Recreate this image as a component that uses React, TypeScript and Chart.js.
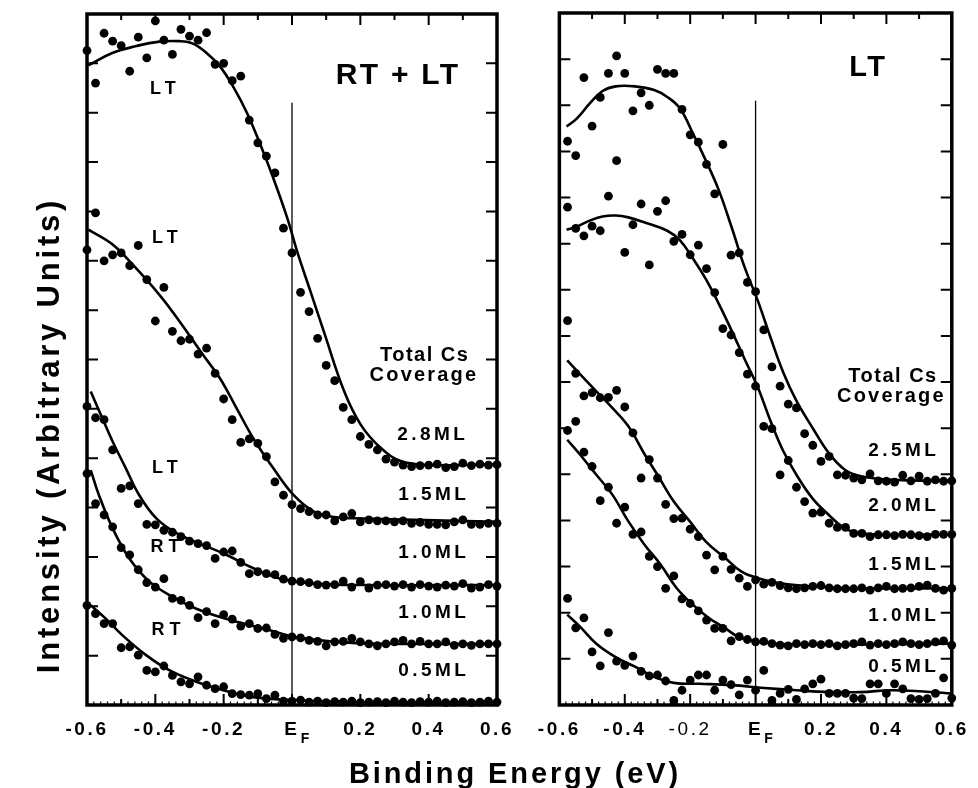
import React, { useEffect, useRef } from "react";
import { Chart, registerables } from "chart.js";

Chart.register(...registerables);

const FONT = '"Liberation Sans", Arial, Helvetica, sans-serif';

// Binding energy grid (eV) shared by all spectra
const ENERGY = [
  -0.6, -0.575, -0.55, -0.525, -0.5, -0.475, -0.45, -0.425, -0.4, -0.375, -0.35, -0.325,
  -0.3, -0.275, -0.25, -0.225, -0.2, -0.175, -0.15, -0.125, -0.1, -0.075, -0.05, -0.025,
  0, 0.025, 0.05, 0.075, 0.1, 0.125, 0.15, 0.175, 0.2, 0.225, 0.25, 0.275, 0.3, 0.325,
  0.35, 0.375, 0.4, 0.425, 0.45, 0.475, 0.5, 0.525, 0.55, 0.575, 0.6,
];

const X_TICKS = [-0.6, -0.4, -0.2, 0, 0.2, 0.4, 0.6];
const X_TICK_LABELS = ["-0.6", "-0.4", "-0.2", "E", "0.2", "0.4", "0.6"];
const X_MAJOR = [-0.4, -0.2, 0, 0.2, 0.4];
const X_MINOR = [-0.5, -0.3, -0.1, 0.1, 0.3, 0.5];
const Y_TICKS_LEFT = [1, 2, 3, 4, 5, 6, 7, 8, 9, 10, 11, 12, 13];
const Y_TICKS_RIGHT = [1, 2, 3, 4, 5, 6, 7, 8, 9, 10, 11, 12, 13, 14];

// ---------- Left panel (RT + LT) data points ----------
const L_28ML = [13.26, 12.6, 13.61, 13.45, 13.36, 12.84, 13.53, 13.11, 13.86, 13.47, 13.18, 13.69, 13.55, 13.47, 13.62, 12.98, 13.0, 12.65, 12.74, 11.85, 11.39, 11.12, 10.78, 9.66, 9.16, 8.36, 7.97, 7.43, 6.88, 6.57, 6.03, 5.78, 5.44, 5.28, 5.17, 4.98, 4.92, 4.86, 4.83, 4.85, 4.86, 4.88, 4.81, 4.83, 4.9, 4.85, 4.88, 4.86, 4.87];
const L_15ML = [9.22, 9.97, 9.0, 9.12, 9.16, 8.9, 9.31, 8.62, 7.78, 8.46, 7.57, 7.38, 7.41, 7.11, 7.23, 6.72, 6.2, 5.78, 5.32, 5.39, 5.3, 5.03, 4.52, 4.25, 4.06, 3.98, 3.92, 3.85, 3.85, 3.73, 3.81, 3.88, 3.71, 3.75, 3.73, 3.73, 3.71, 3.73, 3.68, 3.7, 3.66, 3.66, 3.65, 3.71, 3.75, 3.66, 3.66, 3.68, 3.68];
const L_10ML_LT = [6.05, 5.82, 5.78, 5.17, 4.39, 4.44, 4.08, 3.66, 3.65, 3.54, 3.5, 3.41, 3.32, 3.27, 3.23, 2.97, 3.1, 3.12, 2.89, 2.66, 2.7, 2.66, 2.64, 2.55, 2.51, 2.5, 2.48, 2.44, 2.43, 2.44, 2.51, 2.39, 2.5, 2.37, 2.43, 2.44, 2.41, 2.44, 2.39, 2.44, 2.41, 2.39, 2.43, 2.41, 2.46, 2.37, 2.39, 2.44, 2.41];
const L_10ML_RT = [4.69, 4.08, 3.85, 3.61, 3.19, 3.04, 2.74, 2.48, 2.39, 2.56, 2.16, 2.12, 2.02, 1.77, 1.89, 1.65, 1.83, 1.74, 1.6, 1.65, 1.55, 1.56, 1.43, 1.35, 1.38, 1.36, 1.31, 1.29, 1.2, 1.28, 1.29, 1.35, 1.28, 1.24, 1.2, 1.24, 1.28, 1.31, 1.24, 1.29, 1.24, 1.24, 1.28, 1.21, 1.24, 1.21, 1.24, 1.24, 1.24];
const L_05ML = [2.02, 1.85, 1.65, 1.65, 1.16, 1.18, 1.01, 0.7, 0.67, 0.79, 0.6, 0.47, 0.43, 0.57, 0.4, 0.33, 0.37, 0.23, 0.21, 0.2, 0.23, 0.13, 0.2, 0.08, 0.08, 0.1, 0.06, 0.08, 0.05, 0.07, 0.06, 0.08, 0.05, 0.06, 0.07, 0.05, 0.08, 0.06, 0.05, 0.07, 0.06, 0.08, 0.05, 0.06, 0.07, 0.05, 0.06, 0.08, 0.06];

// Left panel fitted curves
const LF_28_E = [-0.596, -0.526, -0.456, -0.388, -0.329, -0.29, -0.25, -0.211, -0.173, -0.132, -0.093, -0.055, -0.014, 0.015, 0.054, 0.093, 0.153, 0.202, 0.261, 0.32, 0.408, 0.6];
const LF_28_I = [12.96, 13.21, 13.35, 13.44, 13.45, 13.4, 13.21, 12.94, 12.54, 12.0, 11.36, 10.68, 9.87, 9.19, 8.38, 7.57, 6.35, 5.67, 5.2, 4.94, 4.86, 4.88];
const LF_15_E = [-0.596, -0.525, -0.466, -0.388, -0.329, -0.26, -0.211, -0.162, -0.113, -0.054, 0.005, 0.064, 0.123, 0.212, 0.359, 0.6];
const LF_15_I = [9.63, 9.33, 8.92, 8.31, 7.77, 7.09, 6.62, 6.01, 5.4, 4.79, 4.25, 3.92, 3.81, 3.78, 3.75, 3.71];
const LF_10LT_E = [-0.589, -0.555, -0.525, -0.486, -0.447, -0.397, -0.338, -0.27, -0.191, -0.113, -0.034, 0.064, 0.212, 0.6];
const LF_10LT_I = [6.35, 5.81, 5.34, 4.79, 4.25, 3.78, 3.48, 3.27, 3.04, 2.77, 2.56, 2.46, 2.43, 2.43];
const LF_10RT_E = [-0.589, -0.565, -0.525, -0.476, -0.417, -0.349, -0.28, -0.181, -0.083, 0.005, 0.113, 0.261, 0.6];
const LF_10RT_I = [4.76, 4.25, 3.58, 2.97, 2.5, 2.19, 1.95, 1.72, 1.55, 1.38, 1.29, 1.24, 1.24];
const LF_05_E = [-0.589, -0.545, -0.496, -0.427, -0.358, -0.28, -0.201, -0.113, 0.005, 0.163, 0.6];
const LF_05_I = [2.02, 1.75, 1.41, 1.01, 0.7, 0.47, 0.3, 0.16, 0.1, 0.06, 0.06];

// ---------- Right panel (LT) data points ----------
const R_25ML = [null, 12.22, 11.91, 13.6, 12.55, 13.17, 13.69, 14.07, 13.69, 12.88, 13.27, 13.0, 13.78, 13.69, 13.69, 12.91, 12.36, 12.2, 11.72, 11.08, 12.15, 9.75, 9.8, 9.16, 8.96, 8.13, 7.33, 6.91, 6.52, 6.44, 5.88, 5.63, 5.28, 5.39, 4.99, 4.98, 4.92, 4.88, 5.01, 4.86, 4.85, 4.83, 4.98, 4.86, 4.96, 4.85, 4.88, 4.85, 4.86];
const R_20ML = [null, 10.79, 10.33, 10.17, 10.38, 10.28, 11.03, 11.8, 9.81, 10.41, 10.86, 9.54, 10.7, 10.93, 10.05, 10.2, 9.76, 9.97, 9.46, 8.94, 8.16, 8.02, 7.64, 7.17, 6.91, 6.04, 5.99, 4.99, 5.3, 4.72, 4.41, 4.16, 4.18, 3.94, 3.85, 3.85, 3.72, 3.72, 3.65, 3.69, 3.69, 3.67, 3.7, 3.69, 3.67, 3.65, 3.7, 3.7, 3.7];
const R_15ML = [null, 8.33, 7.19, 6.7, 6.77, 6.66, 6.67, 6.82, 6.46, 5.9, 4.92, 5.32, 4.92, 4.35, 4.04, 4.05, 3.81, 3.65, 3.25, 2.93, 3.22, 2.94, 2.75, 2.57, 2.71, 2.62, 2.66, 2.59, 2.54, 2.52, 2.54, 2.57, 2.59, 2.54, 2.52, 2.52, 2.52, 2.54, 2.49, 2.54, 2.57, 2.52, 2.53, 2.54, 2.57, 2.6, 2.53, 2.49, 2.53];
const R_10ML = [null, 5.95, 6.15, 5.48, 5.17, 4.43, 4.72, 3.94, 4.29, 3.7, 3.75, 3.22, 3.0, 2.53, 2.8, 2.3, 2.2, 2.04, 1.84, 1.66, 1.66, 1.39, 1.48, 1.42, 1.37, 1.38, 1.33, 1.3, 1.28, 1.33, 1.31, 1.33, 1.31, 1.33, 1.28, 1.31, 1.33, 1.37, 1.3, 1.33, 1.31, 1.33, 1.37, 1.33, 1.31, 1.33, 1.37, 1.39, 1.3];
const R_05ML = [null, 2.31, 1.67, 1.89, 1.15, 0.85, 1.57, 0.95, 0.86, 1.06, 0.73, 0.63, 0.65, 0.52, 0.1, 0.32, 0.54, 0.65, 0.65, 0.32, 0.54, 0.44, 0.22, 0.54, 0.32, 0.75, 0.1, 0.25, 0.34, 0.12, 0.35, 0.46, 0.56, 0.25, 0.25, 0.25, 0.15, 0.14, 0.46, 0.46, 0.25, 0.46, 0.35, 0.14, 0.12, 0.14, 0.25, 0.59, 0.15];

// Right panel fitted curves
const RF_25_E = [-0.578, -0.547, -0.507, -0.468, -0.428, -0.369, -0.31, -0.27, -0.231, -0.191, -0.152, -0.112, -0.073, -0.033, 0.007, 0.046, 0.085, 0.125, 0.174, 0.224, 0.273, 0.322, 0.421, 0.6];
const RF_25_I = [12.54, 12.71, 13.04, 13.31, 13.41, 13.41, 13.33, 13.18, 12.93, 12.38, 11.8, 11.15, 10.35, 9.48, 8.76, 7.96, 7.2, 6.59, 6.01, 5.46, 5.1, 4.96, 4.88, 4.86];
const RF_20_E = [-0.578, -0.547, -0.507, -0.468, -0.428, -0.389, -0.339, -0.27, -0.231, -0.191, -0.152, -0.112, -0.073, -0.033, 0.007, 0.046, 0.085, 0.125, 0.174, 0.224, 0.273, 0.322, 0.421, 0.6];
const RF_20_I = [10.3, 10.37, 10.5, 10.59, 10.61, 10.57, 10.46, 10.28, 10.07, 9.67, 9.23, 8.69, 8.11, 7.49, 6.88, 6.15, 5.5, 4.99, 4.48, 4.12, 3.83, 3.72, 3.69, 3.7];
const RF_15_E = [-0.576, -0.537, -0.487, -0.438, -0.389, -0.339, -0.3, -0.25, -0.201, -0.152, -0.092, -0.043, 0.007, 0.076, 0.174, 0.322, 0.6];
const RF_15_I = [7.47, 7.17, 6.8, 6.44, 6.04, 5.43, 4.99, 4.41, 3.98, 3.54, 3.18, 2.89, 2.75, 2.64, 2.57, 2.53, 2.53];
const RF_10_E = [-0.576, -0.537, -0.487, -0.438, -0.389, -0.339, -0.29, -0.241, -0.191, -0.142, -0.092, -0.053, 0.007, 0.125, 0.6];
const RF_10_I = [5.75, 5.43, 4.99, 4.56, 3.98, 3.47, 3.04, 2.53, 2.17, 1.88, 1.66, 1.48, 1.37, 1.31, 1.33];
const RF_05_E = [-0.576, -0.537, -0.487, -0.428, -0.369, -0.31, -0.25, -0.171, -0.073, 0.026, 0.125, 0.224, 0.322, 0.421, 0.6];
const RF_05_I = [1.96, 1.7, 1.33, 1.04, 0.83, 0.61, 0.48, 0.46, 0.43, 0.37, 0.32, 0.28, 0.28, 0.32, 0.25];

// Text labels inside the panels
const LEFT_LABELS = ["RT + LT", "LT", "LT", "LT", "RT", "RT", "Total Cs", "Coverage", "2.8ML", "1.5ML", "1.0ML", "1.0ML", "0.5ML"];
const RIGHT_LABELS = ["LT", "Total Cs", "Coverage", "2.5ML", "2.0ML", "1.5ML", "1.0ML", "0.5ML"];

// Label placement (data coordinates) and style, kept separate from values
const LEFT_LABEL_LAYOUT = [
  { x: 0.307, y: 12.74, size: 30, sp: 2.3 },
  { x: -0.378, y: 12.48, size: 18, sp: 5 },
  { x: -0.372, y: 9.46, size: 18, sp: 5 },
  { x: -0.372, y: 4.8, size: 18, sp: 5 },
  { x: -0.372, y: 3.2, size: 18, sp: 5 },
  { x: -0.369, y: 1.52, size: 18, sp: 5 },
  { x: 0.386, y: 7.09, size: 20, sp: 1.5 },
  { x: 0.383, y: 6.67, size: 20, sp: 2.2 },
  { x: 0.407, y: 5.47, size: 19, sp: 3.4 },
  { x: 0.41, y: 4.25, size: 19, sp: 3.4 },
  { x: 0.41, y: 3.08, size: 19, sp: 3.4 },
  { x: 0.41, y: 1.86, size: 19, sp: 3.4 },
  { x: 0.41, y: 0.69, size: 19, sp: 3.4 },
];
const RIGHT_LABEL_LAYOUT = [
  { x: 0.341, y: 13.81, size: 29, sp: 2.6 },
  { x: 0.418, y: 7.13, size: 20, sp: 1.5 },
  { x: 0.412, y: 6.68, size: 20, sp: 2.2 },
  { x: 0.448, y: 5.51, size: 19, sp: 3.4 },
  { x: 0.448, y: 4.31, size: 19, sp: 3.4 },
  { x: 0.448, y: 3.03, size: 19, sp: 3.4 },
  { x: 0.448, y: 1.93, size: 19, sp: 3.4 },
  { x: 0.448, y: 0.82, size: 19, sp: 3.4 },
];

type Panel = {
  left: number;
  w: number;
  h: number;
  pad: { left: number; right: number; top: number };
  axisH: number;
  yMax: number;
  yTicks: number[];
  efTop: number;
  lightTick: number;
  points: (number | null)[][];
  fits: [number[], number[]][];
  labels: string[];
  layout: { x: number; y: number; size: number; sp: number }[];
};

const LEFT_PANEL: Panel = {
  left: 40,
  w: 490,
  h: 760,
  pad: { left: 47, right: 33, top: 14 },
  axisH: 55,
  yMax: 14,
  yTicks: Y_TICKS_LEFT,
  efTop: 12.2,
  lightTick: -1,
  points: [L_28ML, L_15ML, L_10ML_LT, L_10ML_RT, L_05ML],
  fits: [
    [LF_28_E, LF_28_I],
    [LF_15_E, LF_15_I],
    [LF_10LT_E, LF_10LT_I],
    [LF_10RT_E, LF_10RT_I],
    [LF_05_E, LF_05_I],
  ],
  labels: LEFT_LABELS,
  layout: LEFT_LABEL_LAYOUT,
};

const RIGHT_PANEL: Panel = {
  left: 530,
  w: 448,
  h: 760,
  pad: { left: 25, right: 20, top: 13 },
  axisH: 55,
  yMax: 15,
  yTicks: Y_TICKS_RIGHT,
  efTop: 13.1,
  lightTick: 2,
  points: [R_25ML, R_20ML, R_15ML, R_10ML, R_05ML],
  fits: [
    [RF_25_E, RF_25_I],
    [RF_20_E, RF_20_I],
    [RF_15_E, RF_15_I],
    [RF_10_E, RF_10_I],
    [RF_05_E, RF_05_I],
  ],
  labels: RIGHT_LABELS,
  layout: RIGHT_LABEL_LAYOUT,
};

function makeDecor(panel: Panel) {
  return {
    id: "decor",
    beforeDraw(chart: any) {
      (chart.ctx as any).letterSpacing = "2.6px";
    },
    afterDraw(chart: any) {
      const ctx = chart.ctx as CanvasRenderingContext2D & { letterSpacing: string };
      const a = chart.chartArea;
      const xs = chart.scales.x;
      const ys = chart.scales.y;
      ctx.save();
      ctx.letterSpacing = "0px";
      ctx.strokeStyle = "#000";
      ctx.fillStyle = "#000";
      ctx.lineCap = "butt";

      // inward y ticks on both sides
      ctx.lineWidth = 2;
      ctx.beginPath();
      for (const v of panel.yTicks) {
        const py = ys.getPixelForValue(v);
        ctx.moveTo(a.left, py);
        ctx.lineTo(a.left + 11, py);
        ctx.moveTo(a.right, py);
        ctx.lineTo(a.right - 11, py);
      }
      for (const v of X_MAJOR) {
        const px = xs.getPixelForValue(v);
        ctx.moveTo(px, a.top);
        ctx.lineTo(px, a.top + 11);
        ctx.moveTo(px, a.bottom);
        ctx.lineTo(px, a.bottom - 11);
      }
      for (const v of X_MINOR) {
        const px = xs.getPixelForValue(v);
        ctx.moveTo(px, a.top);
        ctx.lineTo(px, a.top + 6);
        ctx.moveTo(px, a.bottom);
        ctx.lineTo(px, a.bottom - 6);
      }
      ctx.stroke();

      // fine ticks along the bottom edge
      ctx.lineWidth = 1.2;
      ctx.beginPath();
      for (let i = -29; i <= 29; i++) {
        const px = xs.getPixelForValue(i * 0.02);
        ctx.moveTo(px, a.bottom);
        ctx.lineTo(px, a.bottom - 3.5);
      }
      ctx.stroke();

      // frame
      ctx.lineWidth = 3.5;
      ctx.strokeRect(a.left, a.top, a.right - a.left, a.bottom - a.top);

      // subscript F of E_F
      ctx.font = `bold 14px ${FONT}`;
      ctx.textAlign = "center";
      ctx.textBaseline = "alphabetic";
      ctx.fillText("F", xs.getPixelForValue(0) + 13, a.bottom + 38);

      // in-panel labels
      panel.labels.forEach((text, i) => {
        const l = panel.layout[i];
        ctx.font = `bold ${l.size}px ${FONT}`;
        ctx.letterSpacing = `${l.sp}px`;
        ctx.textAlign = "center";
        ctx.textBaseline = "middle";
        ctx.fillText(text, xs.getPixelForValue(l.x) + l.sp / 2, ys.getPixelForValue(l.y));
      });
      ctx.restore();
    },
  };
}

function buildConfig(panel: Panel): any {
  const datasets: any[] = [];
  panel.points.forEach((arr) => {
    const data: { x: number; y: number }[] = [];
    arr.forEach((v, i) => {
      if (v !== null) data.push({ x: ENERGY[i], y: v });
    });
    datasets.push({
      type: "scatter",
      data,
      showLine: false,
      pointRadius: 4.4,
      pointBackgroundColor: "#000",
      pointBorderWidth: 0,
      pointBorderColor: "#000",
      clip: false,
    });
  });
  panel.fits.forEach(([es, is]) => {
    datasets.push({
      type: "line",
      data: es.map((e, i) => ({ x: e, y: is[i] })),
      borderColor: "#000",
      borderWidth: 2.6,
      pointRadius: 0,
      fill: false,
      tension: 0.4,
    });
  });
  datasets.push({
    type: "line",
    data: [
      { x: 0, y: panel.efTop },
      { x: 0, y: 0 },
    ],
    borderColor: "#000",
    borderWidth: 1.3,
    pointRadius: 0,
    fill: false,
  });

  return {
    type: "scatter",
    data: { datasets },
    options: {
      animation: false,
      responsive: false,
      maintainAspectRatio: false,
      events: [],
      layout: { padding: { left: panel.pad.left, right: panel.pad.right, top: panel.pad.top, bottom: 0 } },
      plugins: { legend: { display: false }, tooltip: { enabled: false }, title: { display: false } },
      scales: {
        x: {
          type: "linear",
          min: -0.6,
          max: 0.6,
          afterBuildTicks: (s: any) => {
            s.ticks = X_TICKS.map((v) => ({ value: v }));
          },
          afterFit: (s: any) => {
            s.height = panel.axisH;
          },
          grid: { display: false, drawTicks: false },
          border: { display: false },
          ticks: {
            color: "#000",
            padding: 13,
            maxRotation: 0,
            minRotation: 0,
            autoSkip: false,
            font: (c: any) => ({
              family: FONT,
              size: 19,
              weight: c.index === panel.lightTick ? "normal" : "bold",
            }),
            callback: (_v: any, i: number) => X_TICK_LABELS[i],
          },
        },
        y: {
          type: "linear",
          min: 0,
          max: panel.yMax,
          display: false,
        },
      },
    },
    plugins: [makeDecor(panel)],
  };
}

function PanelChart({ panel }: { panel: Panel }) {
  const ref = useRef<HTMLCanvasElement>(null);
  useEffect(() => {
    const chart = new Chart(ref.current as HTMLCanvasElement, buildConfig(panel));
    return () => chart.destroy();
  }, [panel]);
  return (
    <canvas
      ref={ref}
      width={panel.w}
      height={panel.h}
      style={{ position: "absolute", left: panel.left, top: 0, width: panel.w, height: panel.h }}
    />
  );
}

export default function App() {
  return (
    <div
      style={{
        position: "absolute",
        left: 0,
        top: 0,
        width: 978,
        height: 788,
        background: "#fff",
        overflow: "hidden",
      }}
    >
      <PanelChart panel={LEFT_PANEL} />
      <PanelChart panel={RIGHT_PANEL} />
      <div
        style={{
          position: "absolute",
          left: 49 - 300,
          top: 435 - 18,
          width: 600,
          height: 36,
          lineHeight: "36px",
          textAlign: "center",
          transform: "rotate(-90deg)",
          font: `bold 31px ${FONT}`,
          letterSpacing: "3.8px",
          whiteSpace: "nowrap",
          color: "#000",
        }}
      >
        Intensity (Arbitrary Units)
      </div>
      <div
        style={{
          position: "absolute",
          left: 515 - 300,
          top: 757,
          width: 600,
          height: 29,
          lineHeight: "29px",
          textAlign: "center",
          font: `bold 29px ${FONT}`,
          letterSpacing: "2.9px",
          whiteSpace: "nowrap",
          color: "#000",
        }}
      >
        Binding Energy (eV)
      </div>
    </div>
  );
}
